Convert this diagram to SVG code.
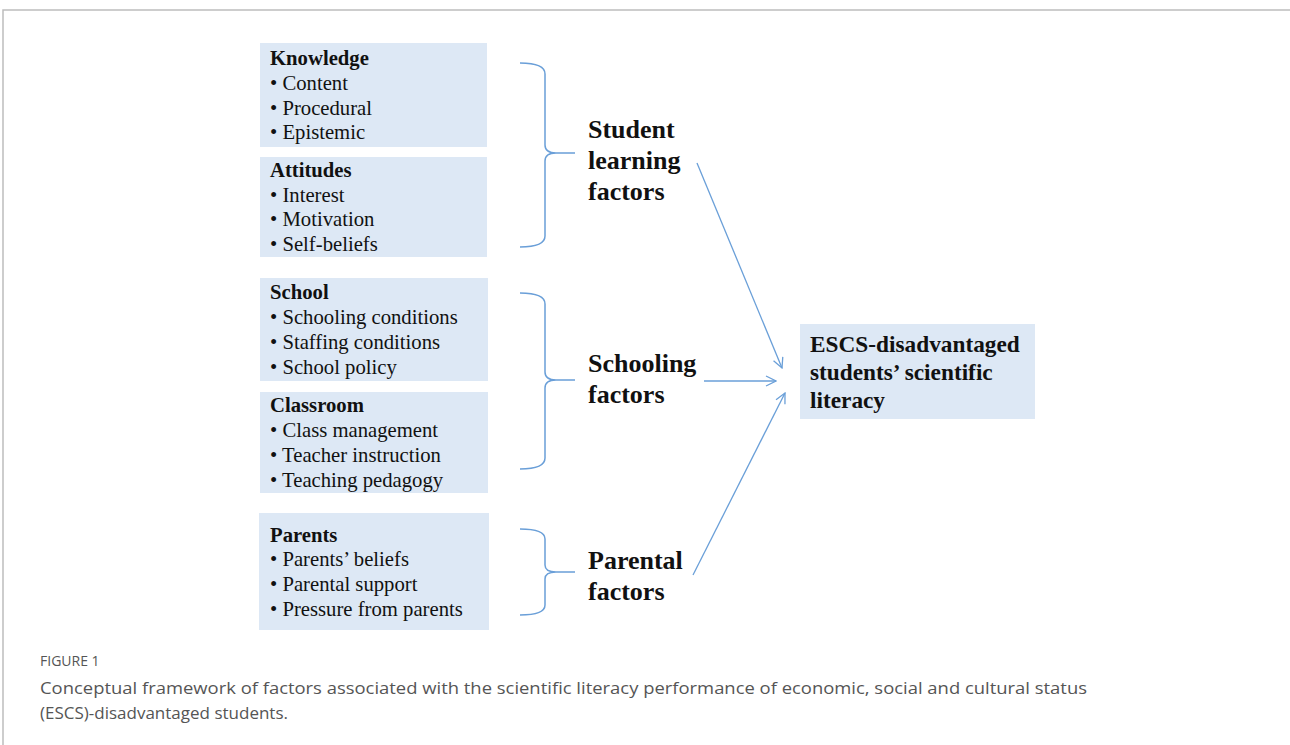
<svg xmlns="http://www.w3.org/2000/svg" width="1290" height="745" viewBox="0 0 1290 745">
<defs>
<style>
.box{fill:#dde8f5}
.t{font-family:"Liberation Serif","Times New Roman",serif;font-size:20.7px;fill:#111}
.h{font-weight:bold}
.big{font-family:"Liberation Serif","Times New Roman",serif;font-size:26px;font-weight:bold;fill:#111}
.tg{font-family:"Liberation Serif","Times New Roman",serif;font-size:23.3px;font-weight:bold;fill:#111}
.br{fill:none;stroke:#6a9fd8;stroke-width:1.5}
.ar{fill:none;stroke:#6a9fd8;stroke-width:1.3}
.cap{font-family:"Open Sans","Noto Sans",sans-serif;fill:#555}
</style>
<marker id="ah" viewBox="0 0 12 12" refX="11" refY="6" markerWidth="12" markerHeight="12" markerUnits="userSpaceOnUse" orient="auto">
<path d="M1,1 L11,6 L1,11" fill="none" stroke="#6a9fd8" stroke-width="1.3"/>
</marker>
</defs>
<rect width="1290" height="745" fill="#fff"/>
<path d="M3,745 L3,10 L1290,10" fill="none" stroke="#bdbdbd" stroke-width="1.5"/>

<g id="knowledge">
<rect class="box" x="260" y="43" width="227" height="104"/>
<text class="t h" x="270" y="65">Knowledge</text>
<text class="t" x="270" y="90">• Content</text>
<text class="t" x="270" y="115">• Procedural</text>
<text class="t" x="270" y="139">• Epistemic</text>
</g>
<g id="attitudes">
<rect class="box" x="260" y="157" width="227" height="100"/>
<text class="t h" x="270" y="177">Attitudes</text>
<text class="t" x="270" y="202">• Interest</text>
<text class="t" x="270" y="226">• Motivation</text>
<text class="t" x="270" y="251">• Self-beliefs</text>
</g>
<g id="school">
<rect class="box" x="260" y="278" width="228" height="103"/>
<text class="t h" x="270" y="299">School</text>
<text class="t" x="270" y="324">• Schooling conditions</text>
<text class="t" x="270" y="349">• Staffing conditions</text>
<text class="t" x="270" y="374">• School policy</text>
</g>
<g id="classroom">
<rect class="box" x="260" y="392" width="228" height="101"/>
<text class="t h" x="270" y="412">Classroom</text>
<text class="t" x="270" y="437">• Class management</text>
<text class="t" x="270" y="462">• Teacher instruction</text>
<text class="t" x="270" y="487">• Teaching pedagogy</text>
</g>
<g id="parents">
<rect class="box" x="259" y="513" width="230" height="117"/>
<text class="t h" x="270" y="542">Parents</text>
<text class="t" x="270" y="566">• Parents’ beliefs</text>
<text class="t" x="270" y="591">• Parental support</text>
<text class="t" x="270" y="616">• Pressure from parents</text>
</g>

<g id="student-learning-factors">
<path class="br" d="M520,63 Q545,63 545,74 L545,145 Q545,153 556,153 L575,153 M556,153 Q545,153 545,161 L545,236 Q545,247 520,247"/>
<text class="big" x="588" y="138">Student</text>
<text class="big" x="588" y="169">learning</text>
<text class="big" x="588" y="200">factors</text>
</g>
<g id="schooling-factors">
<path class="br" d="M520,293 Q545,293 545,304 L545,372 Q545,380 556,380 L575,380 M556,380 Q545,380 545,388 L545,458 Q545,469 520,469"/>
<text class="big" x="588" y="372">Schooling</text>
<text class="big" x="588" y="403">factors</text>
</g>
<g id="parental-factors">
<path class="br" d="M520,529 Q545,529 545,539 L545,565 Q545,572 556,572 L575,572 M556,572 Q545,572 545,579 L545,605 Q545,615 520,615"/>
<text class="big" x="588" y="569">Parental</text>
<text class="big" x="588" y="600">factors</text>
</g>

<g id="target">
<rect class="box" x="800" y="324" width="235" height="95"/>
<text class="tg" x="810" y="352">ESCS-disadvantaged</text>
<text class="tg" x="810" y="380">students’ scientific</text>
<text class="tg" x="810" y="408">literacy</text>
</g>

<g id="connectors">
<line class="ar" x1="697" y1="163" x2="782" y2="368" marker-end="url(#ah)"/>
<line class="ar" x1="704" y1="381" x2="776" y2="381" marker-end="url(#ah)"/>
<line class="ar" x1="693" y1="575" x2="785" y2="393" marker-end="url(#ah)"/>
</g>

<g id="caption">
<text class="cap" x="40" y="666" font-size="14">FIGURE 1</text>
<text class="cap" x="40" y="694" font-size="17" textLength="1047" lengthAdjust="spacingAndGlyphs">Conceptual framework of factors associated with the scientific literacy performance of economic, social and cultural status</text>
<text class="cap" x="40" y="719" font-size="17">(ESCS)-disadvantaged students.</text>
</g>
</svg>
